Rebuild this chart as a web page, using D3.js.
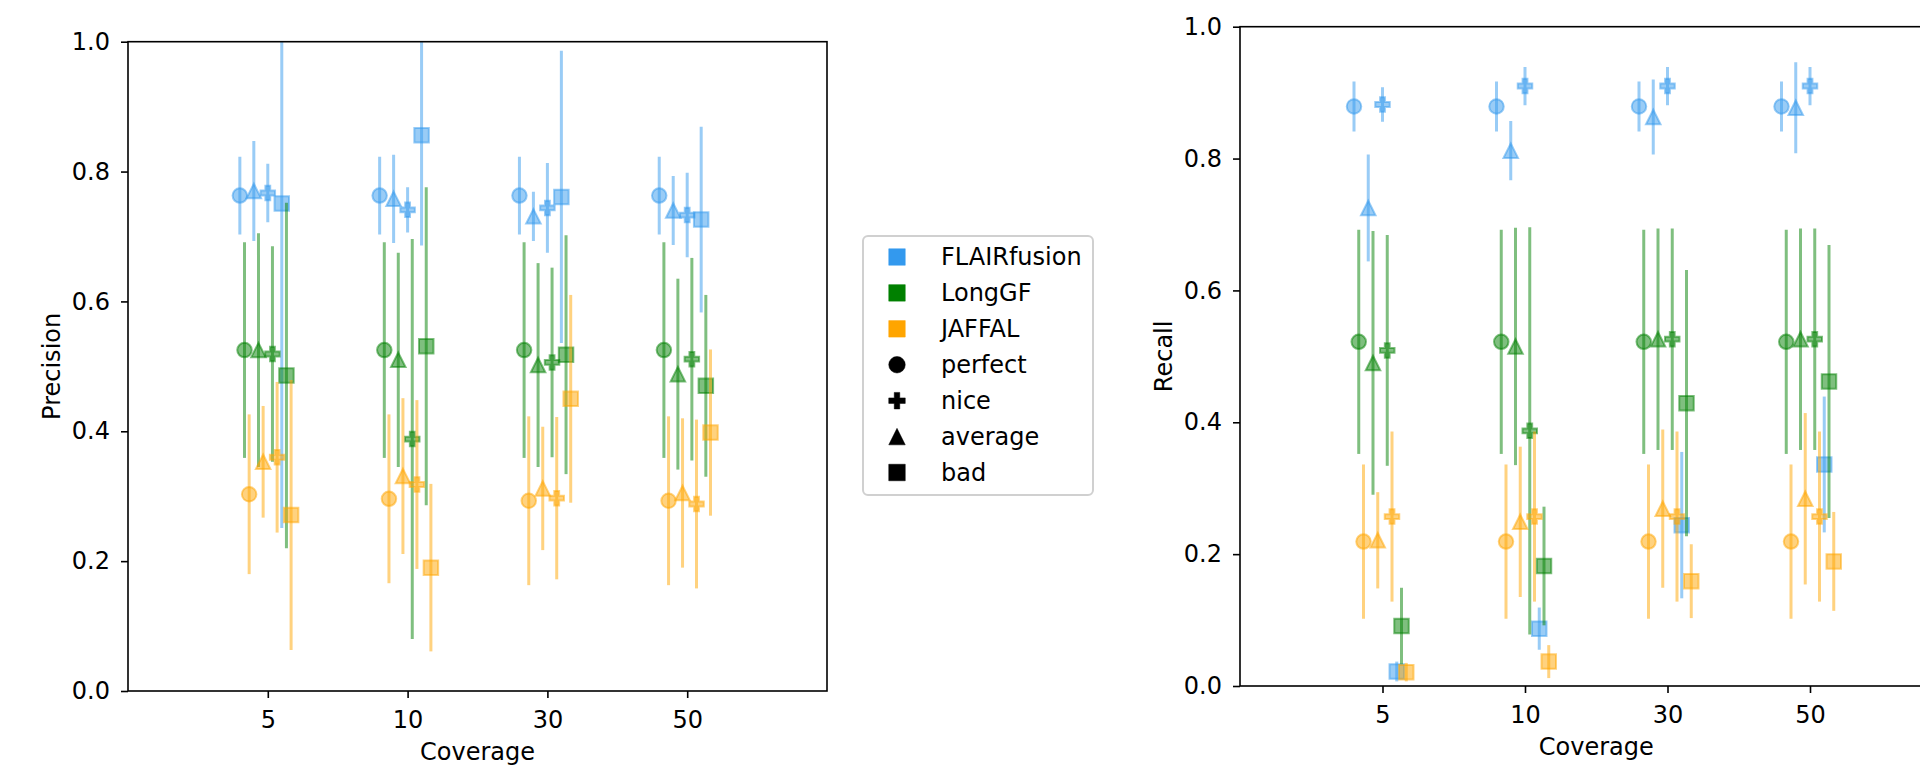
<!DOCTYPE html>
<html>
<head>
<meta charset="utf-8">
<script src="https://cdn.jsdelivr.net/npm/d3@7"></script>
<style>
  html, body { margin: 0; padding: 0; background: #fff; }
  svg { display: block; font-family: "DejaVu Sans", sans-serif; }
</style>
</head>
<body>
<svg id="chart" width="1920" height="766"></svg>
<script>
// Coverage levels on the x axis
const coverage = ["5", "10", "30", "50"];
// Tools and simulated read-quality levels
const methods = ["FLAIRfusion", "LongGF", "JAFFAL"];
const levels = ["perfect", "nice", "average", "bad"];
const yTicks = [0.0, 0.2, 0.4, 0.6, 0.8, 1.0];

// Precision means (rows: perfect, nice, average, bad; columns: coverage 5, 10, 30, 50)
const precisionFLAIRfusion = [
  [0.763, 0.763, 0.763, 0.763],
  [0.767, 0.741, 0.744, 0.733],
  [0.770, 0.758, 0.731, 0.740],
  [0.751, 0.856, 0.761, 0.726]
];
const precisionErrFLAIRfusion = [
  [0.060, 0.060, 0.060, 0.060],
  [0.045, 0.035, 0.069, 0.065],
  [0.077, 0.068, 0.038, 0.053],
  [0.500, 0.170, 0.225, 0.143]
];
const precisionLongGF = [
  [0.525, 0.525, 0.525, 0.525],
  [0.519, 0.388, 0.506, 0.511],
  [0.525, 0.510, 0.502, 0.488],
  [0.486, 0.531, 0.518, 0.470]
];
const precisionErrLongGF = [
  [0.166, 0.166, 0.166, 0.166],
  [0.166, 0.308, 0.146, 0.156],
  [0.180, 0.165, 0.157, 0.147],
  [0.266, 0.245, 0.184, 0.140]
];
const precisionJAFFAL = [
  [0.303, 0.296, 0.293, 0.293],
  [0.360, 0.318, 0.297, 0.288],
  [0.353, 0.331, 0.312, 0.305],
  [0.271, 0.190, 0.450, 0.398]
];
const precisionErrJAFFAL = [
  [0.123, 0.130, 0.130, 0.130],
  [0.116, 0.130, 0.125, 0.130],
  [0.086, 0.120, 0.095, 0.115],
  [0.208, 0.129, 0.160, 0.128]
];

// Recall means and spreads (same layout)
const recallFLAIRfusion = [
  [0.879, 0.879, 0.879, 0.879],
  [0.882, 0.910, 0.910, 0.910],
  [0.725, 0.812, 0.863, 0.877],
  [0.022, 0.087, 0.244, 0.336]
];
const recallErrFLAIRfusion = [
  [0.038, 0.038, 0.038, 0.038],
  [0.026, 0.029, 0.029, 0.029],
  [0.081, 0.045, 0.057, 0.069],
  [0.015, 0.032, 0.111, 0.103]
];
const recallLongGF = [
  [0.522, 0.522, 0.522, 0.522],
  [0.509, 0.387, 0.526, 0.526],
  [0.490, 0.515, 0.526, 0.526],
  [0.091, 0.182, 0.429, 0.462]
];
const recallErrLongGF = [
  [0.170, 0.170, 0.170, 0.170],
  [0.175, 0.309, 0.168, 0.168],
  [0.200, 0.180, 0.168, 0.168],
  [0.058, 0.090, 0.202, 0.207]
];
const recallJAFFAL = [
  [0.219, 0.219, 0.219, 0.219],
  [0.257, 0.257, 0.257, 0.257],
  [0.221, 0.249, 0.269, 0.284],
  [0.021, 0.037, 0.159, 0.189]
];
const recallErrJAFFAL = [
  [0.117, 0.117, 0.117, 0.117],
  [0.129, 0.129, 0.129, 0.129],
  [0.073, 0.114, 0.120, 0.130],
  [0.014, 0.025, 0.056, 0.075]
];

// ---- styling ----
const colors = { FLAIRfusion: "#3399ee", LongGF: "#008000", JAFFAL: "#ffa500" };
const FONT = 24;
const MS = 14.5;   // marker size in px
// horizontal dodge inside each coverage group
const levelShift = { perfect: -0.2, average: -0.1, nice: 0.0, bad: 0.1 };
const methodShift = m => methods.indexOf(m) / 30;

// Marker outlines: circle, triangle, square and filled plus, centred at 0,0
function markerPath(level, m) {
  const h = m / 2;
  if (level === "perfect") {
    const p = d3.path();
    p.moveTo(h, 0);
    p.arc(0, 0, h, 0, 2 * Math.PI);
    p.closePath();
    return p.toString();
  }
  if (level === "average") {
    return `M0,${-h}L${h},${h}L${-h},${h}Z`;
  }
  if (level === "bad") {
    return `M${-h},${-h}H${h}V${h}H${-h}Z`;
  }
  const a = m / 6, b = m / 2;
  return `M${-a},${-b}H${a}V${-a}H${b}V${a}H${a}V${b}H${-a}V${a}H${-b}V${-a}H${-a}Z`;
}

const svg = d3.select("#chart");
svg.append("rect").attr("width", 1920).attr("height", 766).attr("fill", "#fff");

const panels = [
  {
    key: "prec", label: "Precision",
    left: 128, right: 827, top: 41.7, bottom: 691, labelX: 60,
    series: {
      FLAIRfusion: [precisionFLAIRfusion, precisionErrFLAIRfusion],
      LongGF: [precisionLongGF, precisionErrLongGF],
      JAFFAL: [precisionJAFFAL, precisionErrJAFFAL]
    }
  },
  {
    key: "rec", label: "Recall",
    left: 1240, right: 1952.5, top: 26.7, bottom: 686, labelX: 1171.5,
    series: {
      FLAIRfusion: [recallFLAIRfusion, recallErrFLAIRfusion],
      LongGF: [recallLongGF, recallErrLongGF],
      JAFFAL: [recallJAFFAL, recallErrJAFFAL]
    }
  }
];

panels.forEach(p => {
  const x = d3.scaleLinear().domain([-1, 4]).range([p.left, p.right]);
  const y = d3.scaleLinear().domain([0, 1]).range([p.bottom, p.top]);

  svg.append("clipPath").attr("id", "clip-" + p.key)
    .append("rect")
    .attr("x", p.left).attr("y", p.top)
    .attr("width", p.right - p.left).attr("height", p.bottom - p.top);

  const plot = svg.append("g").attr("clip-path", `url(#clip-${p.key})`);

  methods.forEach(m => {
    const [means, errs] = p.series[m];
    levels.forEach((lv, li) => {
      const g = plot.append("g");
      const pts = coverage.map((c, ci) => ({
        cx: x(ci + levelShift[lv] + methodShift(m)),
        v: means[li][ci],
        e: errs[li][ci]
      }));
      // error bars
      g.selectAll("line").data(pts).join("line")
        .attr("x1", d => d.cx).attr("x2", d => d.cx)
        .attr("y1", d => y(d.v - d.e)).attr("y2", d => y(d.v + d.e))
        .attr("stroke", colors[m]).attr("stroke-width", 3)
        .attr("stroke-opacity", 0.5);
      // markers
      g.selectAll("path").data(pts).join("path")
        .attr("d", markerPath(lv, MS))
        .attr("transform", d => `translate(${d.cx},${y(d.v)})`)
        .attr("fill", colors[m]).attr("fill-opacity", 0.5)
        .attr("stroke", colors[m]).attr("stroke-opacity", 0.5)
        .attr("stroke-width", 2);
    });
  });

  // axes
  const xAxis = d3.axisBottom(x)
    .tickValues(d3.range(coverage.length))
    .tickFormat(i => coverage[i])
    .tickSize(7).tickPadding(13);
  const yAxis = d3.axisLeft(y)
    .tickValues(yTicks)
    .tickFormat(d3.format(".1f"))
    .tickSize(7).tickPadding(11);

  const gx = svg.append("g").attr("transform", `translate(0,${p.bottom})`).call(xAxis);
  const gy = svg.append("g").attr("transform", `translate(${p.left},0)`).call(yAxis);
  [gx, gy].forEach(g => {
    g.select(".domain").remove();
    g.selectAll(".tick line").attr("stroke", "#000").attr("stroke-width", 1.6);
    g.selectAll(".tick text").attr("fill", "#000")
      .attr("font-size", FONT).attr("font-family", "DejaVu Sans");
  });

  // frame
  svg.append("rect")
    .attr("x", p.left).attr("y", p.top)
    .attr("width", p.right - p.left).attr("height", p.bottom - p.top)
    .attr("fill", "none").attr("stroke", "#000").attr("stroke-width", 1.6);

  // axis titles
  svg.append("text")
    .attr("x", (p.left + p.right) / 2).attr("y", p.bottom + 69)
    .attr("text-anchor", "middle").attr("font-size", FONT)
    .text("Coverage");
  svg.append("text")
    .attr("transform", `translate(${p.labelX},${(p.top + p.bottom) / 2}) rotate(-90)`)
    .attr("text-anchor", "middle").attr("font-size", FONT)
    .text(p.label);
});

// ---- legend ----
const legend = svg.append("g");
legend.append("rect")
  .attr("x", 863).attr("y", 236).attr("width", 230).attr("height", 259)
  .attr("rx", 5).attr("fill", "#fff").attr("fill-opacity", 0.8)
  .attr("stroke", "#d0d0d0").attr("stroke-width", 2);

const legendItems = [
  ...methods.map(m => ({ text: m, shape: "bad", color: colors[m] })),
  ...levels.map(l => ({ text: l, shape: l, color: "#000" }))
];
const rowY = d3.scaleLinear().domain([0, legendItems.length - 1]).range([257, 472.5]);
const li = legend.selectAll("g.item").data(legendItems).join("g")
  .attr("class", "item")
  .attr("transform", (d, i) => `translate(0,${rowY(i)})`);
li.append("path")
  .attr("d", d => markerPath(d.shape, 16.5))
  .attr("transform", "translate(897,0)")
  .attr("fill", d => d.color).attr("stroke", d => d.color).attr("stroke-width", 0.5);
li.append("text")
  .attr("x", 941).attr("y", 0).attr("dy", "0.35em")
  .attr("font-size", FONT).attr("fill", "#000")
  .text(d => d.text);
</script>
</body>
</html>
